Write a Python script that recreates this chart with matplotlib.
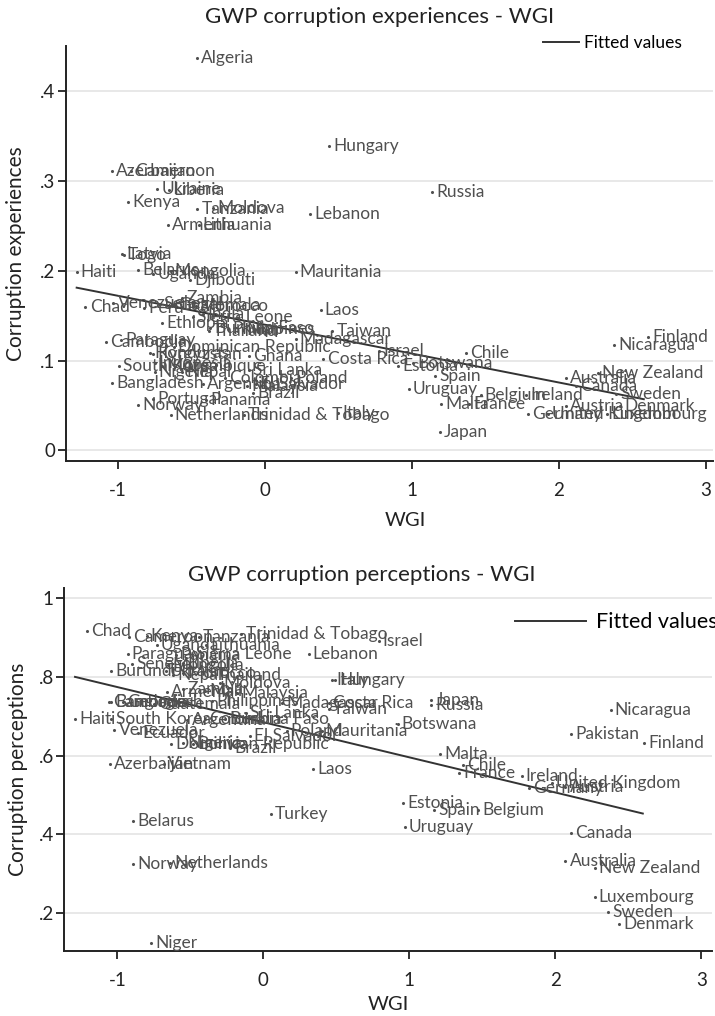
import matplotlib.pyplot as plt

plt.rcParams['font.family'] = ['Lato', 'DejaVu Sans']

# GWP corruption experiences vs WGI
exp_names = ['Algeria', 'Hungary', 'Azerbaijan', 'Cameroon', 'Ukraine', 'Liberia', 'Kenya',
             'Tanzania', 'Moldova', 'Lebanon', 'Russia', 'Armenia', 'Lithuania', 'Latvia', 'Togo',
             'Haiti', 'Belarus', 'Mongolia', 'Uganda', 'Djibouti', 'Mauritania', 'Chad', 'Venezuela',
             'Peru', 'Senegal', 'Guatemala', 'Zambia', 'Morocco', 'India', 'Sierra Leone', 'Ethiopia',
             'Laos', 'Burkina Faso', 'Thailand', 'Philippines', 'Mali', 'Taiwan', 'Madagascar',
             'Cambodia', 'Paraguay', 'Dominican Republic', 'Honduras', 'Ghana', 'Kyrgyzstan',
             'Costa Rica', 'Israel', 'Botswana', 'Estonia', 'Chile', 'South Korea', 'Indonesia',
             'Mozambique', 'Nigeria', 'Nepal', 'Sri Lanka', 'Colombia', 'Poland', 'Bangladesh',
             'Argentina', 'Malaysia', 'El Salvador', 'Brazil', 'Portugal', 'Panama', 'Norway',
             'Netherlands', 'Trinidad & Tobago', 'Italy', 'Spain', 'Uruguay', 'Malta', 'France',
             'Belgium', 'Ireland', 'Japan', 'Germany', 'United Kingdom', 'Austria', 'Denmark',
             'Luxembourg', 'Australia', 'Canada', 'New Zealand', 'Sweden', 'Finland', 'Nicaragua']
exp_wgi = [-0.46, 0.44, -1.04, -0.91, -0.73, -0.65, -0.93,
           -0.46, -0.35, 0.31, 1.14, -0.66, -0.45, -0.97, -0.96,
           -1.28, -0.86, -0.64, -0.76, -0.51, 0.21, -1.22, -1.03,
           -0.82, -0.72, -0.62, -0.56, -0.47, -0.42, -0.49, -0.70,
           0.38, -0.37, -0.38, -0.25, -0.15, 0.46, 0.21,
           -1.08, -0.98, -0.62, -0.78, -0.11, -0.76,
           0.40, 0.78, 1.01, 0.91, 1.37, -0.99, -0.75,
           -0.70, -0.75, -0.56, -0.11, -0.27, 0.18, -1.04,
           -0.42, -0.12, -0.06, -0.08, -0.76, -0.40, -0.86,
           -0.64, -0.14, 0.50, 1.16, 0.98, 1.20, 1.39,
           1.47, 1.78, 1.19, 1.79, 1.93, 2.05, 2.42,
           2.33, 2.05, 2.12, 2.27, 2.39, 2.61, 2.38]
exp_val = [0.436, 0.338, 0.311, 0.311, 0.291, 0.290, 0.276,
           0.269, 0.270, 0.263, 0.287, 0.251, 0.251, 0.218, 0.217,
           0.198, 0.201, 0.200, 0.196, 0.190, 0.198, 0.159, 0.164,
           0.158, 0.163, 0.162, 0.169, 0.161, 0.152, 0.148, 0.142,
           0.156, 0.136, 0.133, 0.135, 0.134, 0.133, 0.124,
           0.121, 0.123, 0.115, 0.108, 0.105, 0.107,
           0.102, 0.111, 0.097, 0.094, 0.108, 0.094, 0.097,
           0.094, 0.087, 0.087, 0.089, 0.081, 0.081, 0.075,
           0.074, 0.072, 0.074, 0.064, 0.057, 0.056, 0.050,
           0.039, 0.039, 0.042, 0.083, 0.068, 0.052, 0.052,
           0.062, 0.062, 0.021, 0.041, 0.041, 0.049, 0.049,
           0.041, 0.081, 0.072, 0.086, 0.063, 0.126, 0.117]
exp_fit_x = [-1.28, 2.58]
exp_fit_y = [0.181, 0.057]

# GWP corruption perceptions vs WGI
perc_names = ['Chad', 'Cameroon', 'Kenya', 'Tanzania', 'Trinidad & Tobago', 'Israel', 'Uganda',
              'Lithuania', 'Lebanon', 'Paraguay', 'Sierra Leone', 'Panama', 'Senegal', 'Mongolia',
              'Liberia', 'Burundi', 'Ukraine', 'Morocco', 'Thailand', 'Nepal', 'Italy', 'Hungary',
              'Moldova', 'Armenia', 'Malaysia', 'Mali', 'Zambia', 'Cambodia', 'Bangladesh', 'Georgia',
              'Guatemala', 'Philippines', 'Madagascar', 'Costa Rica', 'Taiwan', 'Sri Lanka', 'Haiti',
              'South Korea', 'Argentina', 'Colombia', 'Burkina Faso', 'Venezuela', 'Ecuador', 'Poland',
              'Mauritania', 'El Salvador', 'Dominican Republic', 'Bolivia', 'Nigeria', 'Brazil',
              'Botswana', 'Russia', 'Japan', 'Nicaragua', 'Pakistan', 'Finland', 'Azerbaijan',
              'Vietnam', 'Laos', 'Turkey', 'Belarus', 'Norway', 'Netherlands', 'Niger', 'Malta',
              'Chile', 'France', 'Ireland', 'Germany', 'United Kingdom', 'Austria', 'Estonia', 'Spain',
              'Belgium', 'Uruguay', 'Canada', 'Australia', 'New Zealand', 'Luxembourg', 'Sweden',
              'Denmark']
perc_wgi = [-1.21, -0.92, -0.80, -0.44, -0.15, 0.79, -0.73,
            -0.39, 0.31, -0.93, -0.49, -0.60, -0.90, -0.65,
            -0.55, -1.04, -0.67, -0.55, -0.35, -0.62, 0.47, 0.49,
            -0.30, -0.66, -0.18, -0.40, -0.55, -1.06, -1.04, -0.96,
            -0.75, -0.35, 0.13, 0.45, 0.45, -0.12, -1.29,
            -1.04, -0.52, -0.40, -0.26, -1.02, -0.86, 0.16,
            0.40, -0.09, -0.63, -0.48, -0.55, -0.23,
            0.92, 1.15, 1.15, 2.38, 2.11, 2.61, -1.05,
            -0.68, 0.34, 0.05, -0.89, -0.89, -0.64, -0.77, 1.21,
            1.37, 1.34, 1.77, 1.82, 1.98, 2.07, 0.96, 1.17,
            1.47, 0.97, 2.11, 2.07, 2.27, 2.27, 2.36,
            2.44]
perc_val = [0.916, 0.901, 0.903, 0.900, 0.909, 0.891, 0.881,
            0.881, 0.858, 0.858, 0.858, 0.855, 0.833, 0.830,
            0.835, 0.815, 0.815, 0.810, 0.805, 0.805, 0.792, 0.792,
            0.785, 0.762, 0.760, 0.765, 0.770, 0.737, 0.737, 0.735,
            0.732, 0.739, 0.734, 0.734, 0.719, 0.709, 0.694,
            0.694, 0.690, 0.692, 0.692, 0.666, 0.658, 0.663,
            0.663, 0.651, 0.630, 0.630, 0.632, 0.620,
            0.681, 0.729, 0.742, 0.716, 0.656, 0.633, 0.580,
            0.580, 0.565, 0.451, 0.433, 0.324, 0.327, 0.124, 0.605,
            0.575, 0.557, 0.549, 0.519, 0.530, 0.520, 0.481, 0.461,
            0.461, 0.420, 0.403, 0.332, 0.314, 0.240, 0.203,
            0.172]
perc_fit_x = [-1.29, 2.60]
perc_fit_y = [0.800, 0.453]

txt_color = '#505050'
axis_color = '#222222'


def draw_panel(ax, names, xs, ys, fit_x, fit_y, ylabel, yticks, yticklabels, xlim, ylim):
    ax.scatter(xs, ys, s=1.5, color=txt_color, zorder=3)
    for n, x, y in zip(names, xs, ys):
        ax.annotate(n, (x, y), xytext=(3, 0), textcoords='offset points',
                    ha='left', va='center', fontsize=12.5, color=txt_color)
    ax.plot(fit_x, fit_y, color='#333333', lw=1.4, label='Fitted values')
    ax.set_xlim(xlim)
    ax.set_ylim(ylim)
    ax.set_xticks([-1, 0, 1, 2, 3])
    ax.set_xticklabels(['-1', '0', '1', '2', '3'])
    ax.set_yticks(yticks)
    ax.set_yticklabels(yticklabels)
    ax.tick_params(labelsize=13.5, length=6, width=1.3, colors=axis_color)
    ax.tick_params(axis='x', pad=9)
    ax.tick_params(axis='y', pad=1.5)
    ax.grid(axis='y', color='#e6e6e6', lw=1.3)
    ax.set_axisbelow(True)
    for s in ['top', 'right']:
        ax.spines[s].set_visible(False)
    for s in ['left', 'bottom']:
        ax.spines[s].set_linewidth(1.4)
        ax.spines[s].set_color(axis_color)
    ax.set_ylabel(ylabel, fontsize=15, color=axis_color)


fig = plt.figure(figsize=(7.15, 10.16), dpi=100)
ax1 = fig.add_axes([0.092, 0.546, 0.905, 0.409])
ax2 = fig.add_axes([0.090, 0.064, 0.906, 0.357])

draw_panel(ax1, exp_names, exp_wgi, exp_val, exp_fit_x, exp_fit_y, 'Corruption experiences',
           [0, 0.1, 0.2, 0.3, 0.4], ['0', '.1', '.2', '.3', '.4'],
           (-1.354, 3.05), (-0.012, 0.45))
draw_panel(ax2, perc_names, perc_wgi, perc_val, perc_fit_x, perc_fit_y, 'Corruption perceptions',
           [0.2, 0.4, 0.6, 0.8, 1.0], ['.2', '.4', '.6', '.8', '1'],
           (-1.363, 3.075), (0.104, 1.025))

ax1.yaxis.set_label_coords(-0.062, 0.5)
ax2.yaxis.set_label_coords(-0.056, 0.5)

ax1.legend(loc='center left', bbox_to_anchor=(0.737, 1.007), frameon=False, fontsize=12.5,
           handlelength=2.1, handletextpad=0.3, borderpad=0, borderaxespad=0)
ax2.legend(loc='center left', bbox_to_anchor=(0.696, 0.906), frameon=False, fontsize=15.5,
           handlelength=3.3, handletextpad=0.45, borderpad=0, borderaxespad=0)

# titles and x labels placed like the Stata combined graph
fig.text(380 / 715, 1 - 17 / 1016, 'GWP corruption experiences - WGI',
         ha='center', va='center', fontsize=16, color=axis_color)
fig.text(362 / 715, 1 - 575 / 1016, 'GWP corruption perceptions - WGI',
         ha='center', va='center', fontsize=16, color=axis_color)
fig.text(405 / 715, 1 - 520 / 1016, 'WGI', ha='center', va='center', fontsize=14.5, color=axis_color)
fig.text(388 / 715, 1 - 1005 / 1016, 'WGI', ha='center', va='center', fontsize=14.5, color=axis_color)

fig.savefig('out.png', dpi=100)
